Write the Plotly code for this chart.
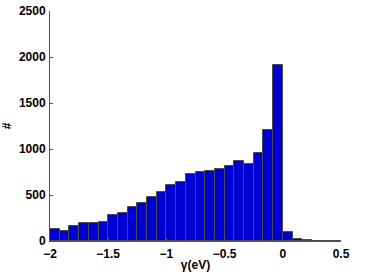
import numpy as np
import plotly.graph_objects as go

# Histogram counts, 30 bins spanning -2 .. 0.5
counts = [130, 112, 162, 191, 191, 205, 288, 302, 371, 418,
          483, 530, 604, 638, 732, 753, 757, 786, 814, 865,
          840, 955, 1208, 1910, 101, 18, 8, 3, 1, 1]
x_min, x_max = -2.0, 0.5
x_ticks = [-2, -1.5, -1, -0.5, 0, 0.5]
x_tick_labels = ["\u22122", "\u22121.5", "\u22121", "\u22120.5", "0", "0.5"]
y_ticks = [0, 500, 1000, 1500, 2000, 2500]

edges = np.linspace(x_min, x_max, len(counts) + 1)
centers = (edges[:-1] + edges[1:]) / 2
width = edges[1] - edges[0]

fig = go.Figure(go.Bar(
    x=centers, y=counts, width=width,
    marker=dict(color="rgb(0,0,210)", line=dict(color="#4a4a55", width=1)),
))

font = dict(family="Liberation Sans, Arial, sans-serif", size=12, color="black")
fig.update_layout(
    width=374, height=273,
    margin=dict(l=50, r=33, t=11, b=32),
    plot_bgcolor="white", paper_bgcolor="white",
    bargap=0, showlegend=False,
    font=font,
)
fig.update_xaxes(
    range=[x_min, x_max], tickvals=x_ticks, ticktext=x_tick_labels,
    automargin=False, ticklabelstandoff=2,
    showgrid=False, zeroline=False, showline=True, linecolor="#555", linewidth=1,
    ticks="inside", ticklen=3, tickcolor="#555",
    tickfont=dict(family="Liberation Sans", size=12, color="black", weight="bold"),
    title=dict(text="<b>\u03b3(eV)</b>", standoff=0, font=dict(size=12)),
)
fig.update_yaxes(
    range=[0, 2500], tickvals=y_ticks,
    automargin=False, ticklabelstandoff=1,
    showgrid=False, zeroline=False, showline=True, linecolor="#555", linewidth=1,
    ticks="inside", ticklen=3, tickcolor="#555",
    tickfont=dict(family="Liberation Sans", size=12, color="black", weight="bold"),
    title=dict(text="<b>#</b>", standoff=5, font=dict(size=12)),
)
fig.write_html(
    "out.html",
    config={"displayModeBar": False},
    post_script="document.body.style.margin='0';document.body.style.overflow='hidden';",
)
